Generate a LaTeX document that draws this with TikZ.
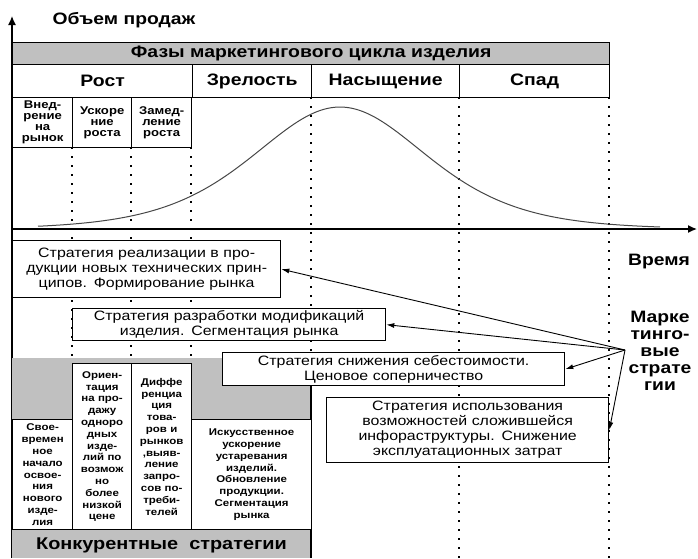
\documentclass[tikz,border=0pt]{standalone}
\usepackage{fontspec}
\setmainfont{Liberation Sans}[FakeStretch=1.17]
\usetikzlibrary{arrows.meta}
\definecolor{bandgray}{RGB}{192,192,192}
\definecolor{curvegray}{RGB}{70,70,70}

\begin{document}
\begin{tikzpicture}[x=1pt, y=-1pt,
        cell/.style={draw, line width=1.3pt, anchor=north west, inner sep=0pt, align=center},
        headtext/.style={font=\fontsize{16.6}{19}\selectfont\bfseries},
        tinytext/.style={font=\fontsize{11.2}{11}\selectfont\bfseries},
        coltext/.style={font=\fontsize{9.8}{11.8}\selectfont\bfseries},
        strat/.style={draw, fill=white, line width=1.3pt, anchor=north west, inner sep=0pt, align=center, font=\fontsize{13.6}{15}\selectfont},
        phaseline/.style={line width=1.6pt, dash pattern=on 1.6pt off 7.4pt},
        pointer/.style={line width=0.9pt, -{Latex[length=8pt, width=5pt]}}]
        \useasboundingbox (0,0) rectangle (698,558);

        % Axes
        \coordinate (origin) at (12,558);
        \coordinate (ytop) at (12,16);
        \coordinate (xstart) at (12,229);
        \coordinate (xend) at (697,229);
        \draw[line width=1.4pt, -{Latex[length=9pt, width=8pt]}] (origin) -- (ytop);
        \draw[line width=1.4pt, -{Latex[length=9pt, width=8pt]}] (xstart) -- (xend);

        % Phase boundaries
        \foreach \x in {72,131,191} \draw[phaseline] (\x,147) -- (\x,358);
        \draw[phaseline] (311,97) -- (311,358);
        \foreach \x in {459,609} \draw[phaseline] (\x,97) -- (\x,558);

        % Sales curve
        \draw[curvegray, line width=1pt, domain=38:660, samples=120, smooth] plot (\x, {229-122/(cosh((\x-340)/117))^2});

        % Phases of the cycle
        \node[cell, fill=bandgray, minimum width=597, minimum height=22, headtext] (fazy) at (12,42) {Фазы маркетингового цикла изделия};
        \node[cell, minimum width=180, minimum height=33, headtext] (rost) at (12,64) {Рост};
        \node[cell, minimum width=119, minimum height=33, headtext] (zrel) at (192,64) {Зрелость};
        \node[cell, minimum width=148, minimum height=33, headtext] (nas) at (311,64) {Насыщение};
        \node[cell, minimum width=150, minimum height=33, headtext] (spad) at (459,64) {Спад};
        \node[cell, minimum width=60, minimum height=50, tinytext, text width=58] (vned) at (12,97) {Внед-\\рение\\на\\рынок};
        \node[cell, minimum width=59, minimum height=50, tinytext, text width=57] (uskor) at (72,97) {Ускоре\\ние\\роста};
        \node[cell, minimum width=60, minimum height=50, tinytext, text width=58] (zamed) at (131,97) {Замед-\\ление\\роста};

        % Competitive strategies
        \fill[bandgray] (12,358) rectangle (311,558);
        \draw[line width=1.3pt] (311,358) -- (311,558);
        \node[cell, fill=white, minimum width=60, minimum height=110, coltext, text width=58] (col1) at (12,419) {Свое-\\времен\\ное\\начало\\освое-\\ния\\нового\\изде-\\лия};
        \node[cell, fill=white, minimum width=59, minimum height=166, coltext, text width=57] (col2) at (72,363) {Ориен-\\тация\\на про-\\дажу\\одноро\\дных\\изде-\\лий по\\возмож\\но\\более\\низкой\\цене};
        \node[cell, fill=white, minimum width=60, minimum height=166, coltext, text width=58] (col3) at (131,363) {Диффе\\ренциа\\ция\\това-\\ров и\\рынков\\,выяв-\\ление\\запро-\\сов по-\\треби-\\телей};
        \node[cell, fill=white, minimum width=120, minimum height=110, coltext, text width=116] (col4) at (191,419) {Искусственное\\ускорение\\устаревания\\изделий.\\Обновление\\продукции.\\Сегментация\\рынка};
        \node[font=\fontsize{17}{19}\selectfont\bfseries] (konk) at (161.5,545) {Конкурентные\ \ стратегии};

        % Marketing strategies
        \node[strat, minimum width=268, minimum height=57, text width=266] (s1) at (12,240) {Стратегия реализации в про-\\дукции новых технических прин-\\ципов. Формирование рынка};
        \node[strat, minimum width=313, minimum height=32, text width=311] (s2) at (72,308) {Стратегия разработки модификаций\\изделия. Сегментация рынка};
        \node[strat, minimum width=342, minimum height=33, text width=340] (s3) at (222,352) {Стратегия снижения себестоимости.\\Ценовое соперничество};
        \node[strat, minimum width=282, minimum height=65, text width=280] (s4) at (326,397) {Стратегия использования\\возможностей сложившейся\\инфораструктуры. Снижение\\эксплуатационных затрат};

        \coordinate (src) at (625,350);
        \foreach \b in {s1,s2,s3,s4} \draw[pointer] (src) -- (\b.east);

        % Labels
        \node[font=\fontsize{16.5}{19}\selectfont\bfseries] (obem) at (124,20) {Объем продаж};
        \node[font=\fontsize{16.5}{19}\selectfont\bfseries] (vremya) at (659,262) {Время};
        \node[font=\fontsize{16.5}{17}\selectfont\bfseries, align=center] (markstrat) at (660,351) {Марке\\тинго-\\вые\\страте\\гии};

    \end{tikzpicture}
\end{document}
